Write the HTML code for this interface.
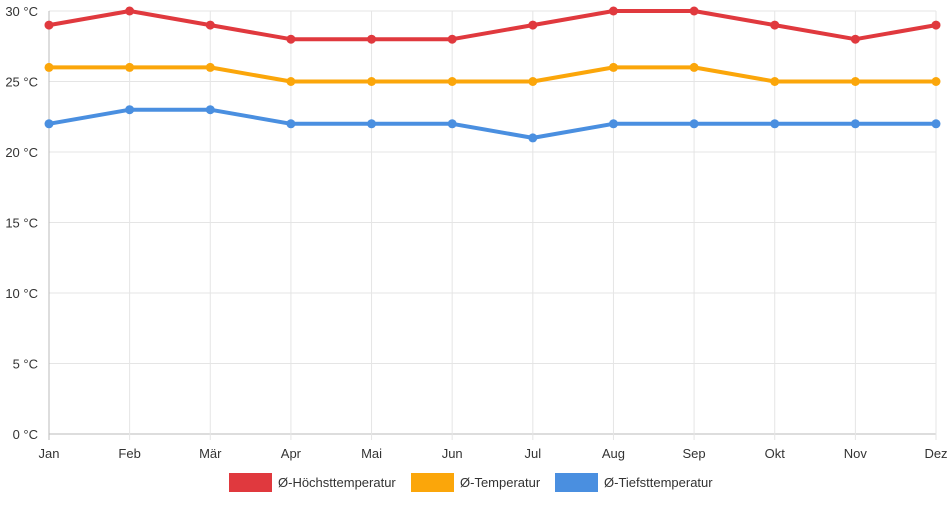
<!DOCTYPE html>
<html><head><meta charset="utf-8"><style>
body{margin:0;background:#fff;font-family:"Liberation Sans",sans-serif;}
svg text{font-family:"Liberation Sans",sans-serif;font-size:13px;fill:#333;}
</style></head><body>
<svg id="chart" width="952" height="500">
<g id="grid"></g><g id="axes"></g><g id="series"></g><g id="legend"></g>
</svg>
<script>
const months=["Jan","Feb","Mär","Apr","Mai","Jun","Jul","Aug","Sep","Okt","Nov","Dez"];
const highTemps=[29,30,29,28,28,28,29,30,30,29,28,29];
const avgTemps=[26,26,26,25,25,25,25,26,26,25,25,25];
const lowTemps=[22,23,23,22,22,22,21,22,22,22,22,22];
const yTicks=[0,5,10,15,20,25,30];
const seriesNames=["Ø-Höchsttemperatur","Ø-Temperatur","Ø-Tiefsttemperatur"];
const seriesColors=["#e0393e","#fba60a","#4a8fe0"];
const NS="http://www.w3.org/2000/svg";
const x0=49,x1=936,y0=434,y1=11;
const xs=i=>x0+i*(x1-x0)/(months.length-1);
const ys=v=>y0-(v-0)/(30-0)*(y0-y1);
function mk(tag,attrs,parent,txt){const e=document.createElementNS(NS,tag);for(const k in attrs)e.setAttribute(k,attrs[k]);if(txt!==undefined)e.textContent=txt;document.getElementById(parent).appendChild(e);return e;}
yTicks.forEach(t=>{
 const l=mk('line',{x1:x0,x2:x1,y1:ys(t),y2:ys(t),stroke:t===0?'#bbb':'#e5e5e5','stroke-width':1},'grid');
 
 
 const tx=mk('text',{x:38,y:ys(t)+5,'text-anchor':'end'},'axes',t+' °C');
 
 
});
months.forEach((m,i)=>{
 const l=mk('line',{x1:xs(i),x2:xs(i),y1:y1,y2:y0+6,stroke:i===0?'#bbb':'#e5e5e5','stroke-width':1},'grid');
 
 
 const tx=mk('text',{x:xs(i),y:458,'text-anchor':'middle'},'axes',m);
 
 
});
[highTemps,avgTemps,lowTemps].forEach((d,s)=>{
 const pl=mk('polyline',{points:d.map((v,i)=>xs(i)+','+ys(v)).join(' '),fill:'none',stroke:seriesColors[s],'stroke-width':4,'stroke-linejoin':'round'},'series');
 
 
 d.forEach((v,i)=>{
  const c=mk('circle',{cx:xs(i),cy:ys(v),r:4.5,fill:seriesColors[s]},'series');
  
  
 });
});
const legX=[229,411,555];
seriesNames.forEach((n,s)=>{
 const r=mk('rect',{x:legX[s],y:473,width:43,height:19,fill:seriesColors[s]},'legend');
 
 
 const t=mk('text',{x:legX[s]+49,y:487},'legend',n);
 
 
});
</script>
</body></html>
